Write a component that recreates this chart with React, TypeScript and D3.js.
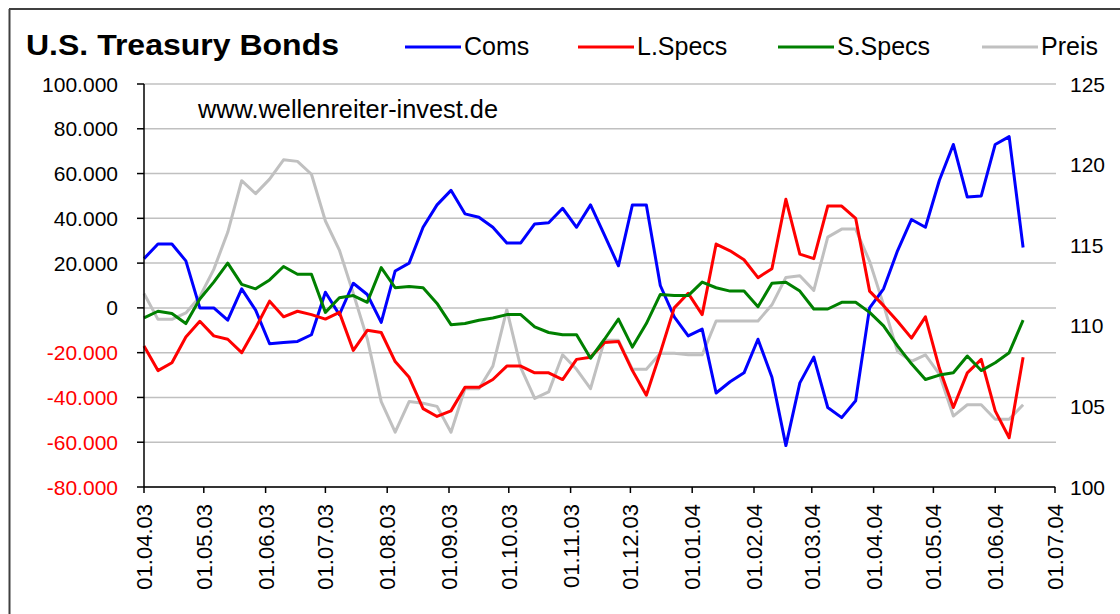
import React from 'react';
import * as d3 from 'd3';

// weekly COT report dates (Tuesdays)
const weeks = [
  '2003-04-01', '2003-04-08', '2003-04-15', '2003-04-22', '2003-04-29',
  '2003-05-06', '2003-05-13', '2003-05-20', '2003-05-27',
  '2003-06-03', '2003-06-10', '2003-06-17', '2003-06-24',
  '2003-07-01', '2003-07-08', '2003-07-15', '2003-07-22', '2003-07-29',
  '2003-08-05', '2003-08-12', '2003-08-19', '2003-08-26',
  '2003-09-02', '2003-09-09', '2003-09-16', '2003-09-23', '2003-09-30',
  '2003-10-07', '2003-10-14', '2003-10-21', '2003-10-28',
  '2003-11-04', '2003-11-11', '2003-11-18', '2003-11-25',
  '2003-12-02', '2003-12-09', '2003-12-16', '2003-12-23', '2003-12-30',
  '2004-01-06', '2004-01-13', '2004-01-20', '2004-01-27',
  '2004-02-03', '2004-02-10', '2004-02-17', '2004-02-24',
  '2004-03-02', '2004-03-09', '2004-03-16', '2004-03-23', '2004-03-30',
  '2004-04-06', '2004-04-13', '2004-04-20', '2004-04-27',
  '2004-05-04', '2004-05-11', '2004-05-18', '2004-05-25',
  '2004-06-01', '2004-06-08', '2004-06-15',
];

// net positions in thousands of contracts
const coms = [
  22, 28.5, 28.5, 21, 0, 0, -5.5, 8.5, -1, -16, -15.5, -15, -12, 7, -3, 11,
  6, -6.5, 16.5, 20, 36, 46, 52.5, 42, 40.5, 36, 29, 29, 37.5, 38, 44.5, 36,
  46, 32.5, 18.8, 46, 46, 10, -4, -12.5, -9.5, -38, -33, -29, -14, -31,
  -61.5, -33.5, -22, -44.5, -49, -41.5, 0, 8.5, 25.5, 39.5, 36, 57, 73, 49.5,
  50, 73, 76.5, 27,
];
const lSpecs = [
  -17, -28, -24.5, -13, -6, -12.5, -14, -20, -9, 3, -4, -1.5, -3, -5, -2, -19,
  -10, -11, -24, -31, -45, -48.5, -46, -35.5, -35.5, -32, -26, -26, -29, -29,
  -32, -23, -22, -15.5, -15, -28, -39, -20, 0, 6.5, -3, 28.5, 25.5, 21.5, 13.5,
  17.5, 48.5, 24, 22, 45.5, 45.5, 40, 7.5, 1, -6, -13.5, -4, -27, -44.5, -29,
  -23, -46, -58, -22,
];
const sSpecs = [
  -4.5, -1.5, -2.5, -7, 4, 11.5, 20, 10.5, 8.5, 12.5, 18.5, 15, 15, -2, 4.5,
  5.5, 2.5, 18, 9, 9.5, 9, 2, -7.5, -7, -5.5, -4.5, -3, -3, -8.5, -11, -12,
  -12, -22.5, -14, -5, -17.5, -7, 6, 5.5, 5.5, 11.5, 9, 7.5, 7.5, 0.5, 11,
  11.5, 7.5, -0.5, -0.5, 2.5, 2.5, -2, -8, -17, -25, -32, -30, -29, -21.5, -28,
  -24.5, -20, -5.5,
];
// price (right axis)
const preis = [
  112, 110.4, 110.4, 110.8, 111.8, 113.5, 115.8, 119, 118.2, 119.1, 120.3,
  120.2, 119.4, 116.5, 114.7, 112, 109.2, 105.3, 103.4, 105.3, 105.2, 105,
  103.4, 106.1, 106.1, 107.5, 111, 107.4, 105.5, 105.9, 108.2, 107.3, 106.1,
  109.1, 109.1, 107.3, 107.3, 108.3, 108.3, 108.2, 108.2, 110.3, 110.3, 110.3,
  110.3, 111.3, 113, 113.1, 112.2, 115.5, 116, 116, 114, 111.3, 108.4, 107.8,
  108.2, 107, 104.4, 105.1, 105.1, 104.2, 104.2, 105.1,
];

const leftTicks = [-80, -60, -40, -20, 0, 20, 40, 60, 80, 100];
const rightTicks = [100, 105, 110, 115, 120, 125];

const series = [
  { name: 'Coms', values: coms, color: '#0000ff', axis: 'left' },
  { name: 'L.Specs', values: lSpecs, color: '#ff0000', axis: 'left' },
  { name: 'S.Specs', values: sSpecs, color: '#008000', axis: 'left' },
  { name: 'Preis', values: preis, color: '#c0c0c0', axis: 'right' },
];

const FONT = "'Liberation Sans', Arial, sans-serif";

const W = 1120;
const H = 614;
const plot = { left: 144, right: 1055, top: 84, bottom: 487 };

const parse = d3.timeParse('%Y-%m-%d');
const dates = weeks.map(w => parse(w) as Date);

const de = d3.formatLocale({
  decimal: ',',
  thousands: '.',
  grouping: [3],
  currency: ['', ' €'],
  minus: '-',
});
const fmtLeft = de.format(',');
const fmtDate = d3.timeFormat('%d.%m.%y');

const App: React.FC = () => {
  const start = new Date(2003, 3, 1);
  const end = new Date(2004, 6, 1);
  const x = d3.scaleTime().domain([start, end]).range([plot.left, plot.right]);
  const yL = d3.scaleLinear().domain([-80, 100]).range([plot.bottom, plot.top]);
  const yR = d3.scaleLinear().domain([100, 125]).range([plot.bottom, plot.top]);
  const months = d3.timeMonth.range(start, d3.timeDay.offset(end, 1));

  const lineFor = (s: typeof series[number]) => {
    const ys = s.axis === 'left' ? yL : yR;
    return d3.line<number>()
      .x((_, i) => x(dates[i]))
      .y(v => ys(v))(s.values) || '';
  };

  // price drawn first so the positions sit on top
  const drawOrder = [series[3], series[0], series[1], series[2]];

  const legendPos = [
    { x1: 405, x2: 461 },
    { x1: 578, x2: 634 },
    { x1: 778, x2: 834 },
    { x1: 982, x2: 1038 },
  ];

  return (
    <svg
      width={W}
      height={H}
      style={{ position: 'absolute', left: 0, top: 0, background: '#fff' }}
      fontFamily={FONT}
    >
      <rect x={0} y={0} width={W} height={H} fill="#fff" />
      {/* outer frame */}
      <line x1={9.5} y1={9} x2={9.5} y2={H} stroke="#404040" strokeWidth={2} />
      <line x1={9} y1={9} x2={W} y2={9} stroke="#404040" strokeWidth={2} />

      {/* title */}
      <text x={26} y={55} fontSize={30} fontWeight="bold" fill="#000"
        textLength={313} lengthAdjust="spacingAndGlyphs">U.S. Treasury Bonds</text>

      {/* legend */}
      {series.map((s, i) => (
        <g key={s.name}>
          <line x1={legendPos[i].x1} x2={legendPos[i].x2} y1={47} y2={47}
            stroke={s.color} strokeWidth={3} />
          <text x={legendPos[i].x2 + 3} y={55} fontSize={25} fill="#000">{s.name}</text>
        </g>
      ))}

      {/* gridlines */}
      {leftTicks.map(t => (
        <line key={'g' + t} x1={plot.left} x2={plot.right + 1} y1={yL(t)} y2={yL(t)}
          stroke="#c0c0c0" strokeWidth={1.5} />
      ))}

      <text x={198} y={118} fontSize={25} fill="#000"
        textLength={300} lengthAdjust="spacingAndGlyphs">www.wellenreiter-invest.de</text>

      {/* series */}
      {drawOrder.map(s => (
        <path key={s.name} d={lineFor(s)} fill="none" stroke={s.color}
          strokeWidth={3} strokeLinejoin="round" />
      ))}

      {/* left axis */}
      <line x1={plot.left} x2={plot.left} y1={plot.top} y2={plot.bottom}
        stroke="#000" strokeWidth={1.5} />
      {leftTicks.map(t => (
        <g key={'l' + t}>
          <line x1={plot.left - 7} x2={plot.left} y1={yL(t)} y2={yL(t)}
            stroke="#000" strokeWidth={1.5} />
          <text x={118} y={yL(t)} dy="0.36em" textAnchor="end" fontSize={21}
            fill={t < 0 ? '#ff0000' : '#000'}>{fmtLeft(t * 1000)}</text>
        </g>
      ))}

      {/* right axis labels */}
      {rightTicks.map(t => (
        <text key={'r' + t} x={1070} y={yR(t)} dy="0.36em" fontSize={21}
          fill="#000">{t}</text>
      ))}

      {/* x axis */}
      <line x1={plot.left} x2={plot.right} y1={plot.bottom} y2={plot.bottom}
        stroke="#000" strokeWidth={1.5} />
      {months.map(m => (
        <g key={m.toISOString()} transform={`translate(${x(m)},0)`}>
          <line y1={plot.bottom} y2={plot.bottom + 6} stroke="#000" strokeWidth={1.5} />
          <text transform={`translate(0,${plot.bottom + 17}) rotate(-90)`}
            textAnchor="end" dy="0.36em" fontSize={22} fill="#000">{fmtDate(m)}</text>
        </g>
      ))}
    </svg>
  );
};

export default App;
